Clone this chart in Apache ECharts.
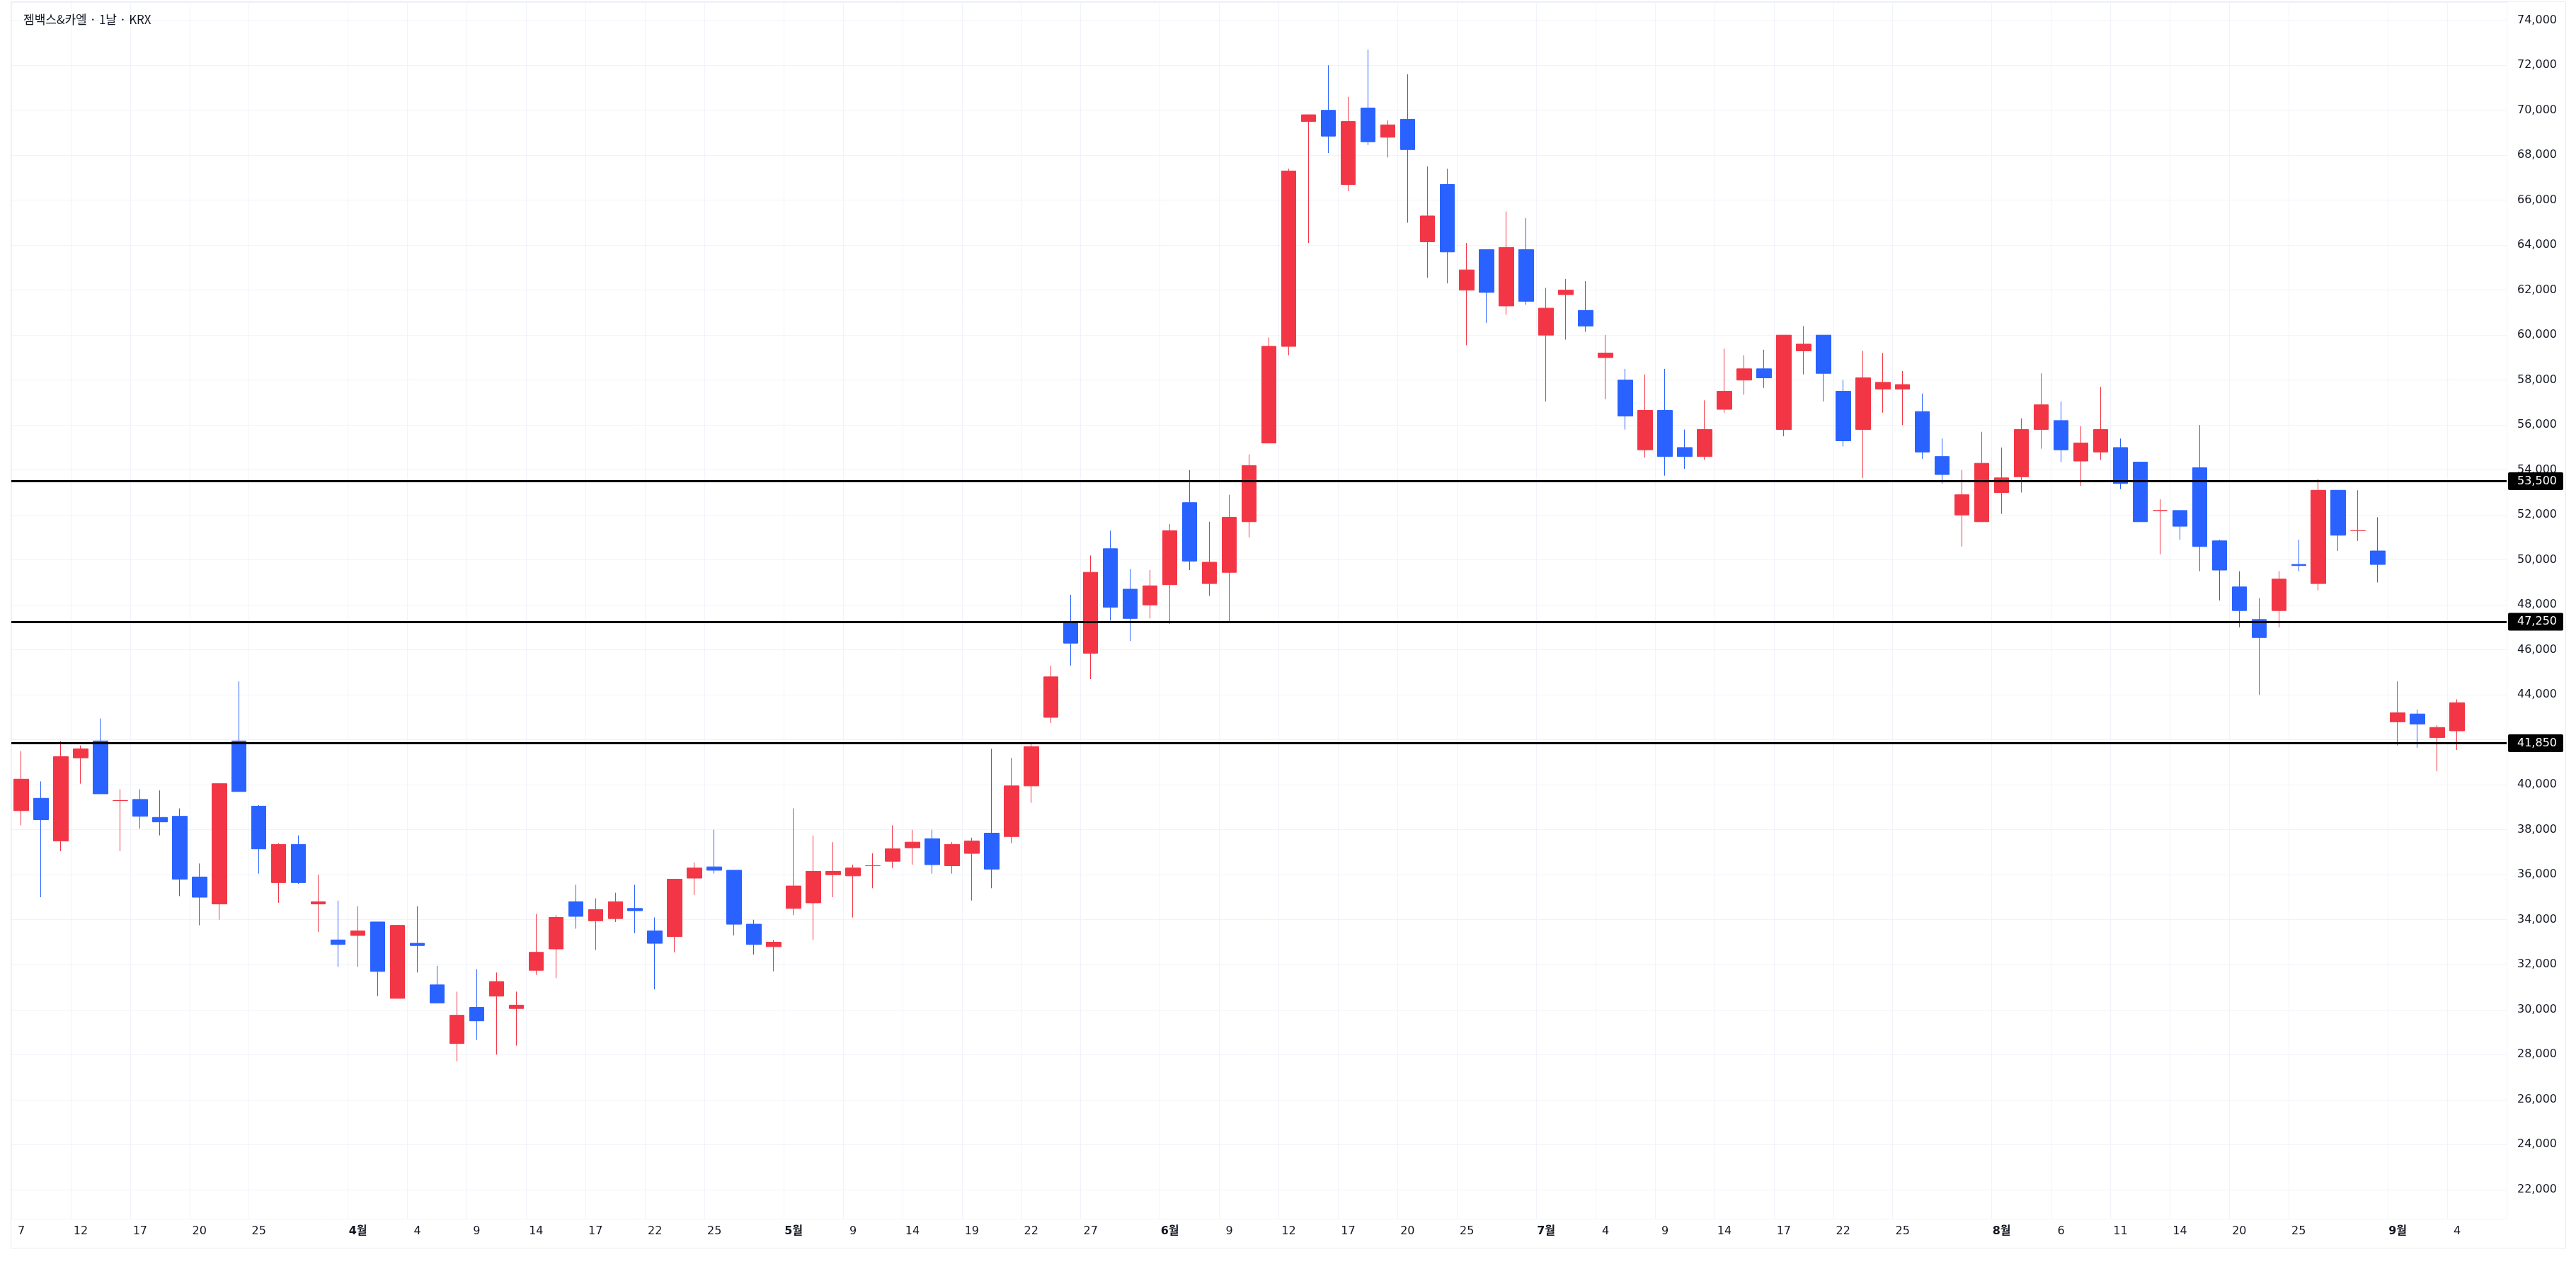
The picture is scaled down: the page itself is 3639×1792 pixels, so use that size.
<!DOCTYPE html>
<html><head><meta charset="utf-8">
<script src="https://cdn.jsdelivr.net/npm/echarts@6/dist/echarts.min.js"></script>
<style>html,body{margin:0;padding:0;background:#fff}#c{width:3639px;height:1792px}</style>
</head><body><div id="c"></div>
<script>
const chartTitle = '젬백스&카엘 · 1날 · KRX';
const dates = [
'03-07','03-10','03-11','03-12','03-13','03-14','03-17','03-18','03-19','03-20','03-21','03-24','03-25','03-26','03-27','03-28','03-31',
'04-01','04-02','04-03','04-04','04-07','04-08','04-09','04-10','04-11','04-14','04-15','04-16','04-17','04-18','04-21','04-22','04-23','04-24','04-25','04-28','04-29','04-30',
'05-02','05-07','05-08','05-09','05-12','05-13','05-14','05-15','05-16','05-19','05-20','05-21','05-22','05-23','05-26','05-27','05-28','05-29','05-30',
'06-02','06-04','06-05','06-09','06-10','06-11','06-12','06-13','06-16','06-17','06-18','06-19','06-20','06-23','06-24','06-25','06-26','06-27','06-30',
'07-01','07-02','07-03','07-04','07-07','07-08','07-09','07-10','07-11','07-14','07-15','07-16','07-17','07-18','07-21','07-22','07-23','07-24','07-25','07-28','07-29','07-30','07-31',
'08-01','08-04','08-05','08-06','08-07','08-08','08-11','08-12','08-13','08-14','08-18','08-19','08-20','08-21','08-22','08-25','08-26','08-27','08-28','08-29',
'09-01','09-02','09-03','09-04'];
const opens = [
38850,39400,37500,41200,41950,39300,39350,38550,38600,35900,34700,41950,39050,35650,37350,34700,33100,
33300,33900,30500,32950,31100,28500,30100,30600,30050,31750,32700,34800,33950,34050,34500,33500,33250,35850,36350,36200,33800,32800,
34500,34750,36000,35950,36400,36600,37200,37600,36400,36950,37850,37700,39950,43000,47200,45850,50500,48700,48000,
48900,52550,48950,49450,51700,55200,59500,69500,70000,66700,70100,68800,69600,64150,66700,62000,63800,61300,63800,
60000,61800,61100,59000,58000,54900,56650,55000,54600,56700,58000,58500,55800,59300,60000,57500,55800,57600,57600,56600,54600,52000,51700,
53000,53700,55800,56200,54400,54800,55000,54350,52200,52200,54100,50850,48800,47350,47750,49800,48950,53100,51300,50400,
42800,43150,42100,42400];
const closes = [
40250,38450,41250,41600,39600,39300,38600,38350,35800,35000,40050,39700,37150,37350,35650,34800,32900,
33500,31700,33750,32850,30300,29750,29500,31250,30200,32550,34100,34150,34450,34800,34400,32950,35800,36300,36200,33800,32900,33000,
35500,36150,36150,36300,36400,37150,37450,36450,37350,37500,36250,39950,41700,44800,46300,49450,47900,47400,48850,
51300,49950,49900,51900,54200,59500,67300,69800,68850,69500,68600,69350,68250,65300,63700,62900,61900,63900,61500,
61200,62000,60400,59200,56400,56650,54600,54600,55800,57500,58500,58100,60000,59600,58300,55300,58100,57900,57800,54800,53800,52900,54300,
53650,55800,56900,54900,55200,55800,53400,51700,52200,51500,50600,49550,47750,46550,49150,49750,53100,51100,51300,49800,
43200,42700,42550,43650];
const lows = [
38200,35000,37050,40050,39600,37050,38050,37750,35050,33750,34000,39700,36050,34750,35600,33450,31900,
31900,30600,30500,31650,30300,27700,28650,28000,28400,31550,31400,33600,32650,33900,33400,30900,32550,35100,36050,33300,32450,31700,
34200,33100,35000,34100,35400,36300,36450,36050,36050,34850,35400,37400,39200,42750,45300,44700,47300,46400,47400,
47150,49550,48400,47200,51000,55200,59100,64100,68100,66400,68450,67900,65000,62550,62300,59550,60550,60900,61350,
57050,59800,60150,57150,55800,54550,53750,54050,54450,56550,57350,57650,55500,58250,57050,55050,53650,56550,56000,54500,53400,50600,51700,
52050,53000,54950,54350,53300,54450,53150,51700,50250,50900,49500,48200,47000,44000,47000,49500,48650,50400,50850,49000,
41750,41650,40600,41550];
const highs = [
41500,40150,41950,41750,42950,39800,39800,39750,38950,36500,40050,44600,39100,37400,37750,36000,34850,
34600,33900,33750,34600,31950,30800,31800,31650,30800,34250,34200,35550,34950,35200,35550,34100,35800,36550,38000,36200,34000,33100,
38950,37750,37450,36450,36950,38200,38000,38000,37450,37650,41600,41200,41800,45300,48450,50200,51300,49600,49550,
51600,54000,51700,52900,54700,59900,67400,69800,72000,70600,72700,69550,71600,67500,67400,64100,63800,65500,65200,
62100,62500,62400,60000,58500,58250,58500,55800,57100,59400,59100,59350,60000,60400,60000,58000,59300,59200,58400,57400,55400,54000,55700,
55000,56300,58300,57050,55950,57700,55400,54350,52700,52200,56000,50900,49500,48300,49500,50900,53600,53100,53100,51900,
44600,43350,42650,43800];
const tickDates = ['03-07','03-12','03-17','03-20','03-25','04-01','04-04','04-09','04-14','04-17','04-22','04-25','05-02','05-09','05-14','05-19','05-22','05-27','06-02','06-09','06-12','06-17','06-20','06-25','07-01','07-04','07-09','07-14','07-17','07-22','07-25','08-01','08-06','08-11','08-14','08-20','08-25','09-01','09-04'];
const tickLabels = ['7','12','17','20','25','4월','4','9','14','17','22','25','5월','9','14','19','22','27','6월','9','12','17','20','25','7월','4','9','14','17','22','25','8월','6','11','14','20','25','9월','4'];
const levels = [53500, 47250, 41850];

const FONT = '"DejaVu Sans", "Noto Sans CJK KR", sans-serif';
const TXT = '#131722';
const GRID = '#f0f3fa';
const tickMap = new Map(tickDates.map((d, i) => [d, tickLabels[i]]));
const showTick = (idx, val) => tickMap.has(val);
const fmt = v => Number(v).toLocaleString('en-US');

const ohlc = dates.map((d, i) => [opens[i], closes[i], lows[i], highs[i]]);

const chart = echarts.init(document.getElementById('c'), null, {renderer: 'canvas'});
chart.setOption({
  animation: false,
  backgroundColor: '#ffffff',
  title: {
    text: chartTitle, left: 28, top: 14,
    textStyle: {fontSize: 17, fontWeight: 'normal', color: TXT, fontFamily: '"Noto Sans CJK KR", sans-serif'}
  },
  graphic: [{
    type: 'rect', silent: true, z: -10,
    shape: {x: 15.5, y: 2.5, width: 3609, height: 1760},
    style: {fill: 'none', stroke: '#e9ebf0', lineWidth: 1}
  }],
  grid: {left: 16, right: 98, top: 3, bottom: 71, containLabel: false},
  xAxis: {
    type: 'category', data: dates, max: dates.length + 1, boundaryGap: true,
    axisLine: {show: false}, axisTick: {show: false},
    axisLabel: {
      interval: showTick, margin: 10, color: TXT, fontSize: 16, fontFamily: FONT,
      formatter: v => {
        const t = tickMap.get(v);
        if (t === undefined) return '';
        return t.indexOf('월') >= 0 ? '{m|' + t + '}' : t;
      },
      rich: {m: {fontWeight: 'bold', fontSize: 16, color: TXT, fontFamily: FONT}}
    },
    splitLine: {show: true, interval: showTick, lineStyle: {color: GRID, width: 1}}
  },
  yAxis: {
    type: 'value', position: 'right', scale: true,
    min: 20701, max: 74810, splitNumber: 27, minInterval: 2000, maxInterval: 2000,
    axisLine: {show: false}, axisTick: {show: false},
    axisLabel: {
      showMinLabel: false, showMaxLabel: false, margin: 15,
      color: TXT, fontSize: 16, fontFamily: FONT, formatter: fmt
    },
    splitLine: {show: true, lineStyle: {color: GRID, width: 1}}
  },
  series: [{
    type: 'candlestick',
    data: ohlc,
    barWidth: 21,
    itemStyle: {
      color: '#F23645', color0: '#2962FF',
      borderColor: '#F23645', borderColor0: '#2962FF', borderColorDoji: '#F23645',
      borderWidth: 1
    },
    markLine: {
      silent: true, symbol: ['none', 'none'], animation: false,
      lineStyle: {color: '#000000', width: 3, type: 'solid'},
      label: {
        show: true, position: 'end', distance: 2,
        formatter: p => fmt(p.value),
        backgroundColor: '#000000', color: '#ffffff', fontSize: 16, fontFamily: FONT,
        padding: [5, 9, 4, 13], borderRadius: 2
      },
      data: levels.map(v => ({yAxis: v}))
    }
  }]
});
</script>
</body></html>
